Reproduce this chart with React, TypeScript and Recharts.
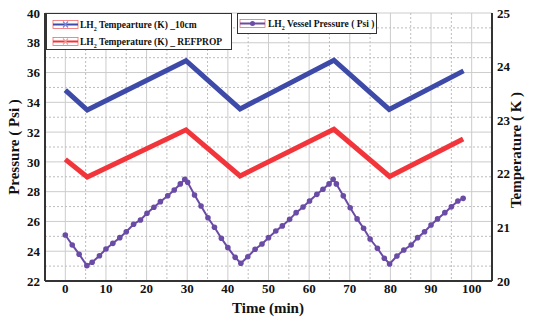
import React from "react";
import { ComposedChart, Line, XAxis, YAxis, CartesianGrid } from "recharts";

const blueTime = [0, 5.4, 29.7, 43, 66.1, 79.7, 98];
const blueTemp = [23.56, 23.19, 24.11, 23.21, 24.12, 23.2, 23.92];
const redTime = [0, 5.4, 29.7, 43, 66.1, 79.8, 97.9];
const redTemp = [22.27, 21.94, 22.82, 21.96, 22.83, 21.95, 22.65];
const pressTime = [
  0, 1.7, 3.4, 5.3, 6.6, 8.4, 10.0, 11.7, 13.4, 15.0, 16.8, 18.5, 20.1, 21.8, 23.4, 25.2, 26.8, 28.3, 29.4, 30.1,
  31.8, 33.4, 35.1, 36.7, 38.4, 40.0, 41.8, 43.2, 44.9, 46.7, 48.4, 50.0, 51.8, 53.4, 55.2, 56.8, 58.5, 60.1, 61.9,
  63.4, 64.9, 65.9, 66.7, 68.4, 70.1, 71.8, 73.4, 75.0, 76.8, 78.5, 79.8, 81.6, 83.3, 85.1, 86.7, 88.4, 90.0, 91.6,
  93.4, 95.0, 96.6, 97.9,
];
const pressPsi = [
  25.09, 24.42, 23.8, 23.03, 23.26, 23.7, 24.15, 24.53, 24.91, 25.31, 25.81, 26.1, 26.55, 26.95, 27.33, 27.73, 28.11,
  28.52, 28.83, 28.63, 27.78, 27.04, 26.25, 25.61, 24.87, 24.24, 23.59, 23.19, 23.63, 24.13, 24.49, 24.91, 25.36, 25.7,
  26.14, 26.59, 26.97, 27.37, 27.82, 28.16, 28.52, 28.83, 28.52, 27.72, 26.92, 26.17, 25.54, 24.82, 24.2, 23.53, 23.14,
  23.68, 24.08, 24.42, 24.91, 25.31, 25.76, 26.17, 26.59, 26.99, 27.37, 27.55,
];

const xTicks = [0, 10, 20, 30, 40, 50, 60, 70, 80, 90, 100];
const xMinor = [5, 15, 25, 35, 45, 55, 65, 75, 85, 95];
const leftTicks = [22, 24, 26, 28, 30, 32, 34, 36, 38, 40];
const leftMinor = [23, 25, 27, 29, 31, 33, 35, 37, 39];
const rightTicks = [20, 21, 22, 23, 24, 25];

const legend1 = ["Tempearture (K) _10cm", "Temperature (K) _ REFPROP"];
const legend2 = "Vessel Pressure ( Psi )";
const xTitle = "Time (min)";
const yLeftTitle = "Pressure ( Psi )";
const yRightTitle = "Temperature ( K )";

const BLUE = "#3d4aa8";
const RED = "#f2353a";
const PURPLE = "#6a4ba6";
const FONT = "'Liberation Serif', 'Times New Roman', serif";

const blueData = blueTime.map((t, i) => ({ t, v: blueTemp[i] }));
const redData = redTime.map((t, i) => ({ t, v: redTemp[i] }));
const pressData = pressTime.map((t, i) => ({ t, v: pressPsi[i] }));

const tickStyle = { fontFamily: FONT, fontWeight: 700, fontSize: 13, fill: "#111" };

function LegendIcon({ x, y, color, kind }: { x: number; y: number; color: string; kind: string }) {
  return (
    <g>
      <rect x={x} y={y - 4} width={25} height={8} fill="none" stroke="#f06a6a" strokeWidth={0.8} />
      <line x1={x} y1={y} x2={x + 25} y2={y} stroke={color} strokeWidth={2} />
      {kind === "x" ? (
        <g stroke={color === BLUE ? "#7a86d8" : "#f59a9a"} strokeWidth={1.2}>
          <line x1={x + 10} y1={y - 3} x2={x + 15} y2={y + 3} />
          <line x1={x + 10} y1={y + 3} x2={x + 15} y2={y - 3} />
        </g>
      ) : (
        <circle cx={x + 12.5} cy={y} r={2.5} fill={color} />
      )}
    </g>
  );
}

function LH({ x, y, rest }: { x: number; y: number; rest: string }) {
  return (
    <text x={x} y={y} fontFamily={FONT} fontWeight={700} fontSize={9.5} fill="#111">
      LH
      <tspan fontSize={6} dy={2.5}>2</tspan>
      <tspan dy={-2.5}>{" " + rest}</tspan>
    </text>
  );
}

export default function App() {
  return (
    <div style={{ position: "fixed", left: 0, top: 0, width: 534, height: 322, background: "#fff" }}>
      <ComposedChart width={534} height={322} margin={{ top: 13, right: 5, left: 8, bottom: 0 }}>
        <CartesianGrid
          yAxisId="left"
          horizontalValues={leftTicks}
          verticalValues={xTicks}
          stroke="#cccccc"
          strokeWidth={1}
        />
        <CartesianGrid
          yAxisId="left"
          horizontalValues={leftMinor}
          verticalValues={xMinor}
          stroke="#bdbdbd"
          strokeDasharray="2 2"
          strokeWidth={1}
        />
        <XAxis
          dataKey="t"
          type="number"
          domain={[-5, 105]}
          ticks={xTicks}
          height={41}
          tickLine={false}
          tickSize={0}
          tickMargin={3}
          axisLine={{ stroke: "#333", strokeWidth: 2 }}
          tick={tickStyle}
          allowDuplicatedCategory={false}
        />
        <XAxis
          xAxisId="top"
          orientation="top"
          type="number"
          domain={[-5, 105]}
          height={0}
          tick={false}
          tickLine={false}
          axisLine={{ stroke: "#333", strokeWidth: 2 }}
        />
        <YAxis
          yAxisId="left"
          type="number"
          domain={[22, 40]}
          ticks={leftTicks}
          width={37}
          tickLine={false}
          tickSize={0}
          tickMargin={5}
          axisLine={{ stroke: "#333", strokeWidth: 2 }}
          tick={tickStyle}
        />
        <YAxis
          yAxisId="right"
          orientation="right"
          type="number"
          domain={[20, 25]}
          ticks={rightTicks}
          width={37}
          tickLine={false}
          tickSize={0}
          tickMargin={5}
          axisLine={{ stroke: "#333", strokeWidth: 2 }}
          tick={{ ...tickStyle, textAnchor: "start" }}
        />
        <Line
          yAxisId="right"
          data={blueData}
          dataKey="v"
          type="linear"
          stroke={BLUE}
          strokeWidth={5}
          dot={false}
          isAnimationActive={false}
        />
        <Line
          yAxisId="right"
          data={redData}
          dataKey="v"
          type="linear"
          stroke={RED}
          strokeWidth={5}
          dot={false}
          isAnimationActive={false}
        />
        <Line
          yAxisId="left"
          data={pressData}
          dataKey="v"
          type="linear"
          stroke={PURPLE}
          strokeWidth={2}
          dot={{ r: 2.8, fill: PURPLE, stroke: PURPLE, strokeWidth: 0 }}
          isAnimationActive={false}
        />
      </ComposedChart>
      <svg width={534} height={322} style={{ position: "absolute", left: 0, top: 0, pointerEvents: "none" }}>
        <rect x={46.5} y={13.5} width={185} height={36} fill="#fff" stroke="#333" strokeWidth={1} />
        <LegendIcon x={53} y={24.5} color={BLUE} kind="x" />
        <LH x={80} y={28} rest={legend1[0]} />
        <LegendIcon x={53} y={41.5} color={RED} kind="x" />
        <LH x={80} y={45} rest={legend1[1]} />
        <rect x={237.5} y={13.5} width={139} height={20} fill="#fff" stroke="#333" strokeWidth={1} />
        <LegendIcon x={240} y={23.5} color={PURPLE} kind="dot" />
        <LH x={268} y={27} rest={legend2} />
        <text
          x={268}
          y={313}
          textAnchor="middle"
          fontFamily={FONT}
          fontWeight={700}
          fontSize={15}
          fill="#111"
        >
          {xTitle}
        </text>
        <text
          transform="translate(19,147) rotate(-90)"
          textAnchor="middle"
          fontFamily={FONT}
          fontWeight={700}
          fontSize={15}
          fill="#111"
        >
          {yLeftTitle}
        </text>
        <text
          transform="translate(521,150) rotate(-90)"
          textAnchor="middle"
          fontFamily={FONT}
          fontWeight={700}
          fontSize={15}
          fill="#111"
        >
          {yRightTitle}
        </text>
      </svg>
    </div>
  );
}
